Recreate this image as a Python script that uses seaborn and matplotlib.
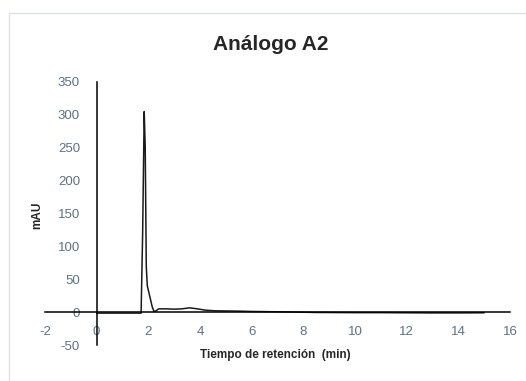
import matplotlib
matplotlib.use("Agg")
import matplotlib.pyplot as plt
import matplotlib.patches as mpatches
import seaborn as sns
import pandas as pd

# chromatogram trace (time in min, signal in mAU)
tiempo = [0.0, 0.5, 1.0, 1.5, 1.72, 1.78, 1.84, 1.88, 1.92, 1.96, 2.02, 2.08,
          2.15, 2.22, 2.3, 2.4, 2.7, 3.0, 3.3, 3.6, 3.9, 4.2, 4.6, 5.0,
          5.5, 6.0, 7.0, 7.5, 8.5, 10.0, 11.0, 12.0, 13.0, 14.0, 15.0]
senal = [-1.5, -1.5, -1.5, -1.5, -1.5, 120, 305, 250, 70, 40, 30, 20,
         8, 1, 2, 5, 5, 4.5, 5, 6.5, 5, 3, 2, 1.8,
         1.5, 1.0, 0.5, 0.2, -0.5, -0.8, -0.8, -1.0, -1.2, -1.2, -1.0]

titulo = "Análogo A2"
x_label = "Tiempo de retención  (min)"
y_label = "mAU"
x_ticks = list(range(-2, 17, 2))
y_ticks = list(range(-50, 351, 50))

df = pd.DataFrame({"t": tiempo, "mAU": senal})

sns.set_theme(style="white")
plt.rcParams["font.family"] = ["Liberation Sans", "DejaVu Sans"]
plt.rcParams["axes.unicode_minus"] = False

fig = plt.figure(figsize=(5.26, 3.81), dpi=100)
ax = fig.add_axes([45 / 526, 1 - 345 / 381, 465 / 526, 263 / 381])

sns.lineplot(data=df, x="t", y="mAU", ax=ax, color="#1a1a1a", linewidth=1.1)

ax.set_xlim(-2, 16)
ax.set_ylim(-50, 350)
ax.set_xticks(x_ticks)
ax.set_yticks(y_ticks)

# axes cross at zero like the Excel chart
for side in ["top", "right"]:
    ax.spines[side].set_visible(False)
ax.spines["left"].set_position(("data", 0))
ax.spines["bottom"].set_position(("data", 0))
for side in ["left", "bottom"]:
    ax.spines[side].set_color("black")
    ax.spines[side].set_linewidth(1.1)

ax.tick_params(length=0, labelsize=9.5, labelcolor="#5f6f88")
ax.tick_params(axis="x", pad=10)
ax.tick_params(axis="y", pad=12)
ax.set_xlabel("")
ax.set_ylabel("")

fig.text(271 / 526, 1 - 45 / 381, titulo, ha="center", va="center",
         fontsize=15, fontweight="bold")
fig.text(275 / 526, 1 - 355 / 381, x_label, ha="center", va="center",
         fontsize=8.5, fontweight="bold")
fig.text(37 / 526, 1 - 215 / 381, y_label, ha="center", va="center",
         fontsize=8.5, fontweight="bold", rotation=90)

# light chart frame (right/bottom edges fall outside the image)
frame = mpatches.Rectangle((9 / 526, -0.1), 1.2, 0.1 + (1 - 13 / 381),
                           transform=fig.transFigure, fill=False,
                           edgecolor="#dfe2ea", linewidth=1.0)
fig.patches.append(frame)

fig.savefig("out.png", dpi=100)
